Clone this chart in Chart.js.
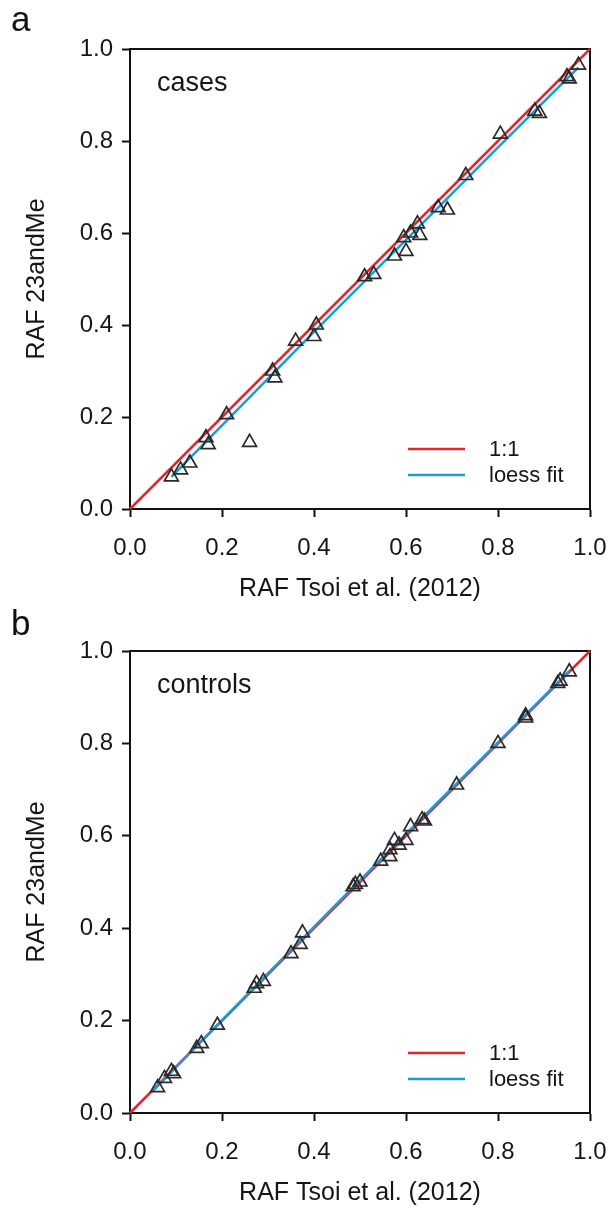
<!DOCTYPE html>
<html lang="en">
<head>
<meta charset="UTF-8">
<title>RAF 23andMe vs Tsoi et al.</title>
<script src="https://cdn.jsdelivr.net/npm/chart.js"></script>
<style>
  body { margin: 0; background: #fff; font-family: 'Liberation Sans', Arial, sans-serif; }
  .panel { position: relative; width: 610px; height: 604px; }
  .panel canvas { position: absolute; left: 0; top: 0; }
  .letter { position: absolute; left: 11px; top: 2px; font-size: 35px; line-height: 34px; color: #111; z-index: 2; }
</style>
</head>
<body>
<div class="panel"><div class="letter">a</div><canvas id="casesChart" width="610" height="604"></canvas></div>
<div class="panel"><div class="letter">b</div><canvas id="controlsChart" width="610" height="604"></canvas></div>

<script>
// axis ticks (same on both axes)
const tickValues = [0, 0.2, 0.4, 0.6, 0.8, 1.0];

// 1:1 reference line
const identityX = [0, 1];
const identityY = [0, 1];

// cases: SNP risk allele frequencies
const casesX = [0.09, 0.11, 0.13, 0.165, 0.17, 0.21, 0.26, 0.31, 0.315, 0.36, 0.405, 0.40,
  0.51, 0.53, 0.575, 0.60, 0.595, 0.61, 0.625, 0.63, 0.67, 0.69, 0.73, 0.805, 0.88, 0.89,
  0.95, 0.955, 0.975];
const casesY = [0.07, 0.085, 0.10, 0.155, 0.14, 0.205, 0.145, 0.30, 0.285, 0.365, 0.40, 0.375,
  0.505, 0.51, 0.55, 0.56, 0.59, 0.60, 0.62, 0.595, 0.655, 0.65, 0.725, 0.815, 0.865, 0.86,
  0.94, 0.935, 0.965];
const casesFitX = [0.09, 0.2, 0.4, 0.6, 0.8, 0.975];
const casesFitY = [0.07, 0.182, 0.385, 0.585, 0.786, 0.96];

// controls
const controlsX = [0.06, 0.075, 0.095, 0.09, 0.145, 0.155, 0.19, 0.27, 0.275, 0.29, 0.35, 0.37,
  0.375, 0.485, 0.49, 0.50, 0.545, 0.565, 0.565, 0.575, 0.585, 0.60, 0.61, 0.635, 0.64, 0.71,
  0.80, 0.86, 0.86, 0.93, 0.935, 0.955];
const controlsY = [0.055, 0.075, 0.085, 0.09, 0.14, 0.15, 0.19, 0.27, 0.28, 0.285, 0.345, 0.365,
  0.39, 0.49, 0.495, 0.50, 0.545, 0.555, 0.57, 0.59, 0.58, 0.59, 0.62, 0.635, 0.632, 0.71,
  0.80, 0.855, 0.86, 0.93, 0.935, 0.955];
const controlsFitX = [0.05, 0.2, 0.4, 0.6, 0.8, 0.955];
const controlsFitY = [0.048, 0.201, 0.403, 0.604, 0.802, 0.957];

const RED = '#e3262b';
const BLUE = '#1e9bd7';
const FONT = "'Liberation Sans', Arial, sans-serif";

function toPoints(xs, ys) {
  return xs.map((x, i) => ({ x: x, y: ys[i] }));
}

// closes the box on the top and right sides
const framePlugin = {
  id: 'frame',
  beforeDatasetsDraw(chart) {
    const { ctx, chartArea: a } = chart;
    ctx.save();
    ctx.strokeStyle = '#111';
    ctx.lineWidth = 2;
    ctx.beginPath();
    ctx.moveTo(a.left, a.top);
    ctx.lineTo(a.right, a.top);
    ctx.lineTo(a.right, a.bottom);
    ctx.stroke();
    ctx.restore();
  }
};

// group label in the corner and the line legend at the bottom right
const labelsPlugin = {
  id: 'panelLabels',
  afterDraw(chart, args, opts) {
    const { ctx, chartArea: a } = chart;
    ctx.save();
    ctx.fillStyle = '#161616';
    ctx.font = '27px ' + FONT;
    ctx.textBaseline = 'middle';
    ctx.textAlign = 'left';
    ctx.fillText(opts.text, a.left + 27, a.top + 35);

    const entries = chart.data.datasets.filter(d => d.legendRow !== undefined)
      .sort((p, q) => p.legendRow - q.legendRow);
    ctx.font = '22px ' + FONT;
    entries.forEach((d, i) => {
      const y = a.bottom - 60 + i * 26;
      ctx.strokeStyle = d.borderColor;
      ctx.lineWidth = 2.5;
      ctx.beginPath();
      ctx.moveTo(a.right - 182, y);
      ctx.lineTo(a.right - 125, y);
      ctx.stroke();
      ctx.fillStyle = '#161616';
      ctx.fillText(d.label, a.right - 101, y + 1);
    });
    ctx.restore();
  }
};

function axis(title, isX) {
  return {
    type: 'linear',
    min: 0,
    max: 1,
    afterBuildTicks: s => { s.ticks = tickValues.map(v => ({ value: v })); },
    afterFit: s => {
      // fixed box sizes, no extra room for overhanging end labels
      if (isX) {
        s.height = 95;
        s.paddingLeft = 0;
        s.paddingRight = 0;
      } else {
        s.width = 130;
        s.paddingTop = 0;
        s.paddingBottom = 0;
      }
    },
    grid: {
      drawOnChartArea: false,
      drawTicks: true,
      tickLength: 8,
      tickWidth: 2,
      tickColor: '#111'
    },
    border: { display: true, color: '#111', width: 2 },
    ticks: {
      color: '#161616',
      font: { family: FONT, size: 24 },
      padding: isX ? 17 : 9,
      maxRotation: 0,
      callback: v => Number(v).toFixed(1)
    },
    title: {
      display: true,
      text: title,
      color: '#161616',
      font: { family: FONT, size: 25 },
      padding: isX ? { top: 0, bottom: 0 } : { top: 22, bottom: 0 }
    }
  };
}

function makePanel(id, label, xs, ys, fitX, fitY, topPad) {
  new Chart(document.getElementById(id), {
    type: 'scatter',
    data: {
      datasets: [
        {
          label: 'RAF',
          data: toPoints(xs, ys),
          pointStyle: 'triangle',
          pointRadius: 8,
          pointBorderWidth: 1.7,
          borderColor: '#2a2a2a',
          backgroundColor: 'rgba(0,0,0,0)'
        },
        {
          label: 'loess fit',
          legendRow: 1,
          data: toPoints(fitX, fitY),
          showLine: true,
          pointRadius: 0,
          borderColor: BLUE,
          borderWidth: 2.5,
          tension: 0.3
        },
        {
          label: '1:1',
          legendRow: 0,
          data: toPoints(identityX, identityY),
          showLine: true,
          pointRadius: 0,
          borderColor: RED,
          borderWidth: 2.5,
          clip: false
        }
      ]
    },
    options: {
      responsive: false,
      animation: false,
      layout: { padding: { left: 0, top: topPad, right: 20, bottom: 0 } },
      plugins: {
        legend: { display: false },
        tooltip: { enabled: false },
        panelLabels: { text: label }
      },
      scales: {
        x: axis('RAF Tsoi et al. (2012)', true),
        y: axis('RAF 23andMe', false)
      }
    },
    plugins: [framePlugin, labelsPlugin]
  });
}

makePanel('casesChart', 'cases', casesX, casesY, casesFitX, casesFitY, 49);
makePanel('controlsChart', 'controls', controlsX, controlsY, controlsFitX, controlsFitY, 47);
</script>
</body>
</html>
